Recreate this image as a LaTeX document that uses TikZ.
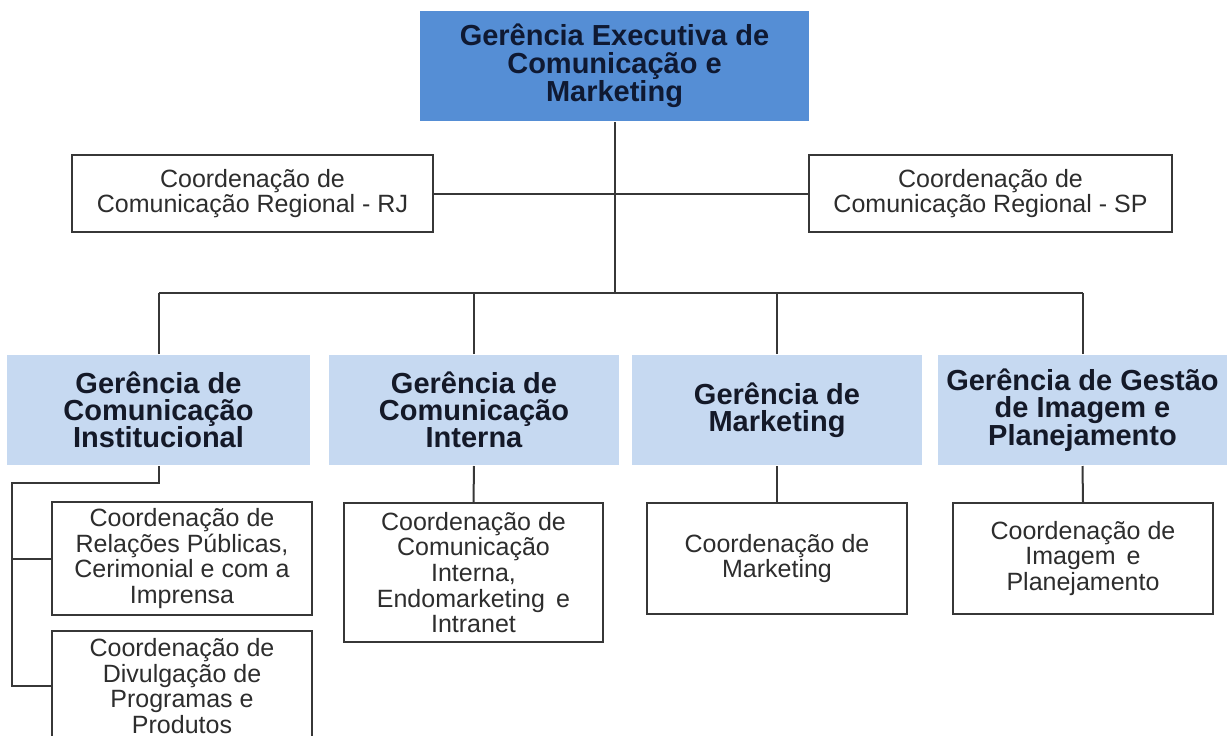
\documentclass[tikz,border=0pt]{standalone}
\usepackage{fontspec}
\setmainfont{Liberation Sans}
\usetikzlibrary{positioning}
\usepackage{xcolor}
\definecolor{topblue}{RGB}{85,142,213}
\definecolor{lightblue}{RGB}{198,217,241}
\definecolor{linegray}{RGB}{55,55,55}

\begin{document}
\begin{tikzpicture}[
x=0.5pt, y=-0.5pt,
line width=1pt,
draw=linegray,
head/.style={fill=topblue, minimum width=194.5pt, minimum height=55pt, align=center,
  font=\fontsize{14.5}{14}\selectfont\bfseries, text={rgb,255:red,15;green,25;blue,50}},
ger/.style={fill=lightblue, minimum width=145pt, minimum height=55pt, align=center,
  font=\fontsize{14.5}{13.6}\selectfont\bfseries, text={rgb,255:red,20;green,25;blue,40}},
coord/.style={draw=linegray, fill=white, minimum width=130pt, minimum height=55.5pt, align=center,
  font=\fontsize{12.5}{12.8}\selectfont, text={rgb,255:red,45;green,45;blue,45}},
]
\useasboundingbox (0,0) rectangle (1228,735);
% nodes
\node[head] (GE) at (614.5,66) {Gerência Executiva de\\Comunicação e\\Marketing};
\node[coord, minimum width=180.5pt, minimum height=38.5pt] (RJ) at (252.5,193.5) {Coordenação de\\Comunicação Regional - RJ};
\node[coord, minimum width=181.5pt, minimum height=38.5pt] (SP) at (990.5,193.5) {Coordenação de\\Comunicação Regional - SP};

\node[ger, minimum width=151.5pt] (GI) at (158.5,410) {Gerência de\\Comunicação\\Institucional};
\node[ger] (GC) at (474,410) {Gerência de\\Comunicação\\Interna};
\node[ger] (GM) at (777,410) {Gerência de\\Marketing};
\node[ger, minimum width=144.5pt] (GP) at (1082.5,410) {Gerência de Gestão\\de Imagem e\\Planejamento};

\node[coord] (RP) at (182,558.5) {Coordenação de\\Relações Públicas,\\Cerimonial e com a\\Imprensa};
\node[coord] (DP) at (182,686) {Coordenação de\\Divulgação de\\Programas e\\Produtos};
\node[coord, minimum width=129.5pt, minimum height=69.5pt] (CI) at (473.5,572.5) {Coordenação de\\Comunicação\\Interna,\\Endomarketing\, e\\Intranet};
\node[coord] (CM) at (777,558.5) {Coordenação de\\Marketing};
\node[coord] (IP) at (1083,558.5) {Coordenação de\\Imagem\, e\\Planejamento};

\coordinate (bar) at (614.5,293);
\coordinate (spine) at (12,483);
% lines
\draw[linegray] (GE.south) -- (bar);
\draw[linegray] (RJ.east) -- (SP.west);
\draw[linegray] (GI.north |- bar) -- (GP.north |- bar);
\foreach \g in {GI,GC,GM,GP}
  \draw[linegray] (\g.north) -- (\g.north |- bar);
\draw[linegray] (GC.south) -- (CI.north);
\draw[linegray] (GM.south) -- (CM.north);
\draw[linegray] (GP.south) -- (IP.north);
\draw[linegray] (GI.south) |- (spine) -- (spine |- DP.west) -- (DP.west);
\draw[linegray] (spine |- RP.west) -- (RP.west);
\end{tikzpicture}
\end{document}
